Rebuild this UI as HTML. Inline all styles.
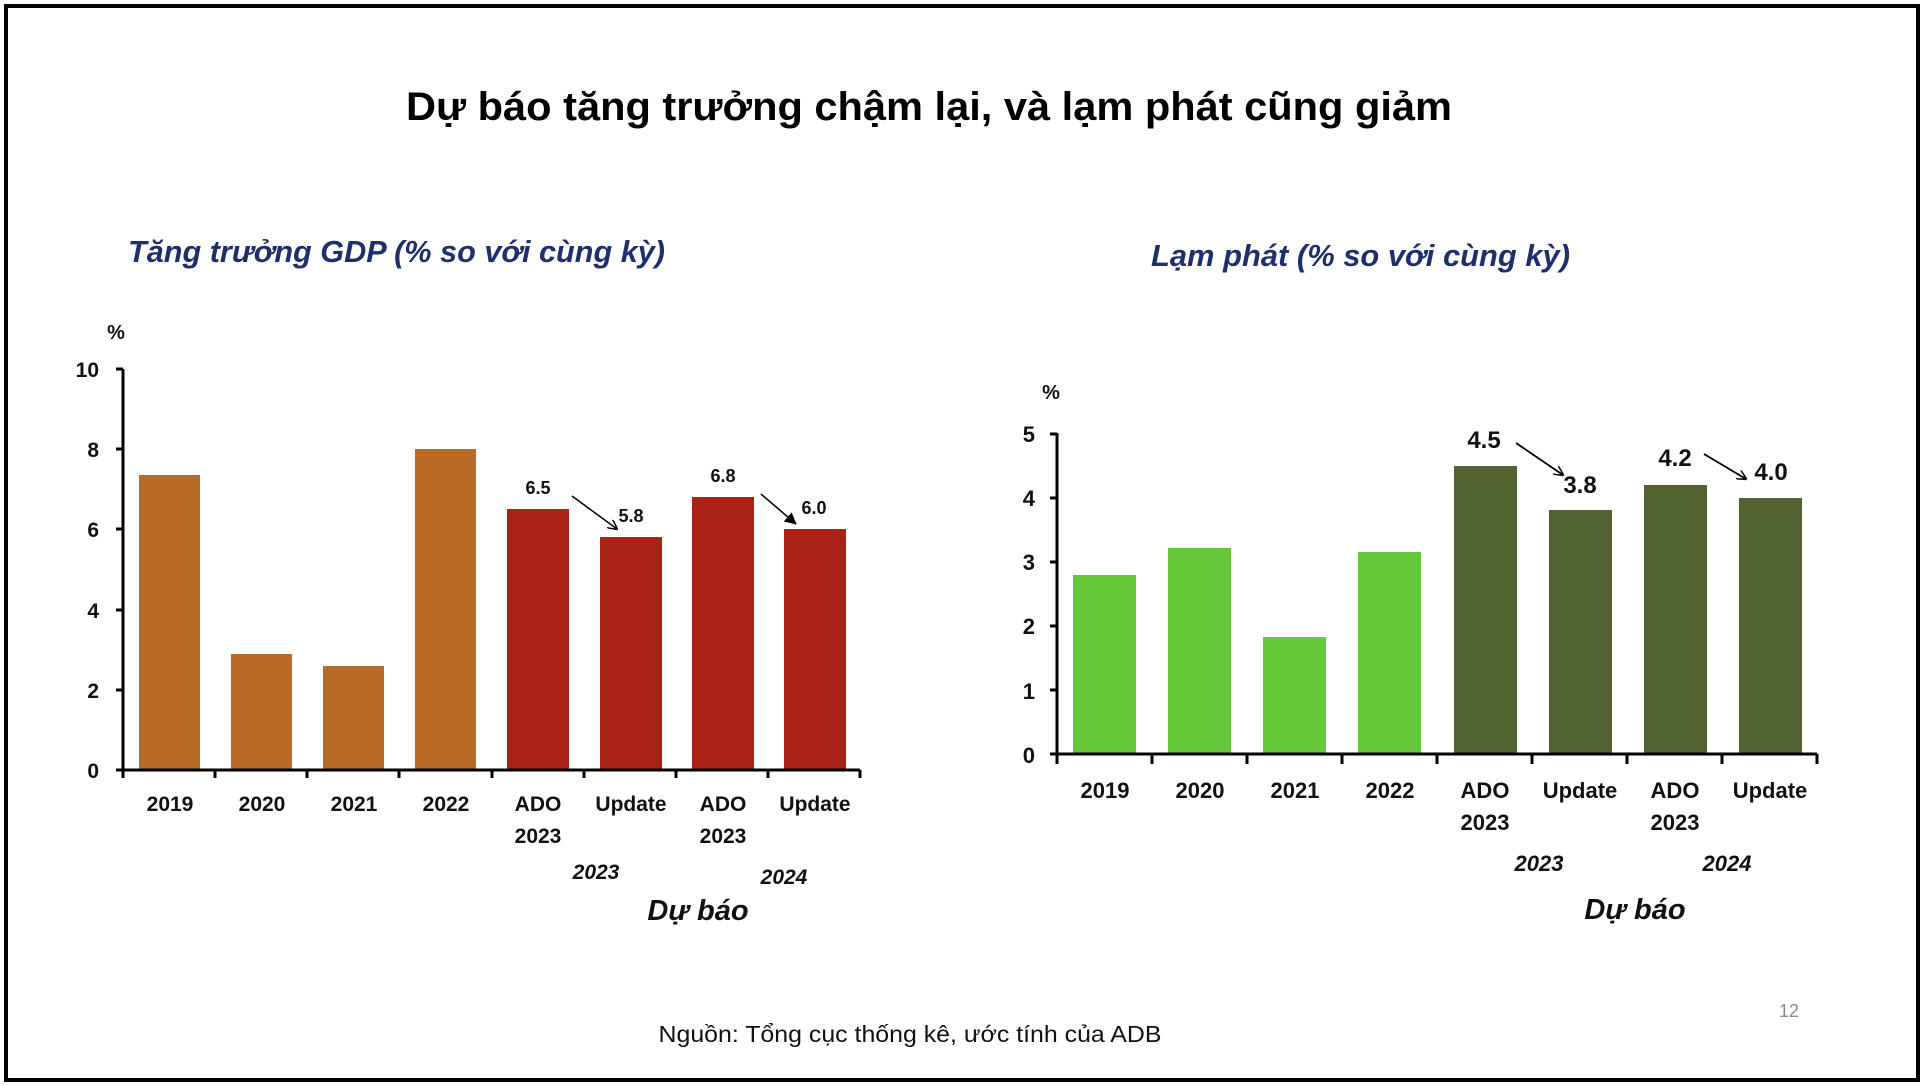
<!DOCTYPE html>
<html><head><meta charset="utf-8"><style>
html,body{margin:0;padding:0;background:#fff;}
svg{display:block;}
text{font-family:"Liberation Sans","DejaVu Sans",sans-serif;}
</style></head><body>
<svg width="1924" height="1086" viewBox="0 0 1924 1086" xmlns="http://www.w3.org/2000/svg">
<defs>
<marker id="ah" markerWidth="10" markerHeight="10" refX="9" refY="5" orient="auto" markerUnits="userSpaceOnUse">
<path d="M0,0 L10,5 L0,10" fill="none" stroke="#000" stroke-width="1.5"/>
</marker>
<marker id="ahf" markerWidth="12" markerHeight="12" refX="11" refY="6" orient="auto" markerUnits="userSpaceOnUse">
<path d="M0,0 L12,6 L0,12 z" fill="#000"/>
</marker>
</defs>
<rect x="6" y="6" width="1912" height="1074" fill="#fff" stroke="#000" stroke-width="4"/>
<text x="929" y="120" text-anchor="middle" font-size="40" font-weight="bold" textLength="1046" lengthAdjust="spacingAndGlyphs">Dự báo tăng trưởng chậm lại, và lạm phát cũng giảm</text>
<text x="128" y="262" font-size="31" font-weight="bold" font-style="italic" fill="#1F2F6B" textLength="537" lengthAdjust="spacingAndGlyphs">Tăng trưởng GDP (% so với cùng kỳ)</text>
<text x="1151" y="266" font-size="31" font-weight="bold" font-style="italic" fill="#1F2F6B" textLength="419" lengthAdjust="spacingAndGlyphs">Lạm phát (% so với cùng kỳ)</text>

<!-- LEFT CHART -->
<g font-weight="bold" font-size="21" fill="#111">
<text x="116" y="339" text-anchor="middle" font-size="20">%</text>
<g text-anchor="end">
<text x="99" y="377">10</text><text x="99" y="457">8</text><text x="99" y="537">6</text>
<text x="99" y="618">4</text><text x="99" y="698">2</text><text x="99" y="778">0</text>
</g>
<g fill="#B96A27">
<rect x="139" y="475" width="61" height="295"/>
<rect x="231" y="654" width="61" height="116"/>
<rect x="323" y="666" width="61" height="104"/>
<rect x="415" y="449" width="61" height="321"/>
</g>
<g fill="#A82218">
<rect x="507" y="509" width="62" height="261"/>
<rect x="600" y="537" width="62" height="233"/>
<rect x="692" y="497" width="62" height="273"/>
<rect x="784" y="529" width="62" height="241"/>
</g>
<g stroke="#000" stroke-width="3" fill="none">
<path d="M123,369 V777 M116,369 H123 M116,449 H123 M116,529 H123 M116,610 H123 M116,690 H123 M116,770 H860"/>
<path d="M123,770 v8 M215,770 v8 M307,770 v8 M399,770 v8 M492,770 v8 M584,770 v8 M676,770 v8 M768,770 v8 M860,770 v8"/>
</g>
<g text-anchor="middle">
<text x="170" y="811">2019</text><text x="262" y="811">2020</text><text x="354" y="811">2021</text><text x="446" y="811">2022</text>
<text x="538" y="811">ADO</text><text x="538" y="843">2023</text>
<text x="631" y="811">Update</text>
<text x="723" y="811">ADO</text><text x="723" y="843">2023</text>
<text x="815" y="811">Update</text>
<text x="596" y="879" font-style="italic">2023</text>
<text x="784" y="884" font-style="italic">2024</text>
<text x="698" y="920" font-style="italic" font-size="29">Dự báo</text>
<text x="538" y="494" font-size="18">6.5</text>
<text x="631" y="522" font-size="18">5.8</text>
<text x="723" y="482" font-size="18">6.8</text>
<text x="814" y="514" font-size="18">6.0</text>
</g>
<line x1="572" y1="496" x2="617" y2="529" stroke="#000" stroke-width="1.5" marker-end="url(#ah)"/>
<line x1="761" y1="494" x2="796" y2="524" stroke="#000" stroke-width="1.5" marker-end="url(#ahf)"/>
</g>

<!-- RIGHT CHART -->
<g font-weight="bold" font-size="22" fill="#111">
<text x="1051" y="399" text-anchor="middle" font-size="20">%</text>
<g text-anchor="end">
<text x="1035" y="442">5</text><text x="1035" y="506">4</text><text x="1035" y="570">3</text>
<text x="1035" y="634">2</text><text x="1035" y="699">1</text><text x="1035" y="763">0</text>
</g>
<g fill="#67C73B">
<rect x="1073" y="575" width="63" height="179"/>
<rect x="1168" y="548" width="63" height="206"/>
<rect x="1263" y="637" width="63" height="117"/>
<rect x="1358" y="552" width="63" height="202"/>
</g>
<g fill="#536231">
<rect x="1454" y="466" width="63" height="288"/>
<rect x="1549" y="510" width="63" height="244"/>
<rect x="1644" y="485" width="63" height="269"/>
<rect x="1739" y="498" width="63" height="256"/>
</g>
<g stroke="#000" stroke-width="3" fill="none">
<path d="M1057,433 V761 M1050,434 H1057 M1050,498 H1057 M1050,562 H1057 M1050,626 H1057 M1050,690 H1057 M1050,754 H1817"/>
<path d="M1057,754 v10 M1152,754 v10 M1247,754 v10 M1342,754 v10 M1437,754 v10 M1532,754 v10 M1627,754 v10 M1722,754 v10 M1817,754 v10"/>
</g>
<g text-anchor="middle">
<text x="1105" y="798">2019</text><text x="1200" y="798">2020</text><text x="1295" y="798">2021</text><text x="1390" y="798">2022</text>
<text x="1485" y="798">ADO</text><text x="1485" y="830">2023</text>
<text x="1580" y="798">Update</text>
<text x="1675" y="798">ADO</text><text x="1675" y="830">2023</text>
<text x="1770" y="798">Update</text>
<text x="1539" y="871" font-style="italic">2023</text>
<text x="1727" y="871" font-style="italic">2024</text>
<text x="1635" y="919" font-style="italic" font-size="29">Dự báo</text>
<text x="1484" y="448" font-size="24">4.5</text>
<text x="1580" y="493" font-size="24">3.8</text>
<text x="1675" y="466" font-size="24">4.2</text>
<text x="1771" y="480" font-size="24">4.0</text>
</g>
<line x1="1516" y1="443" x2="1563" y2="475" stroke="#000" stroke-width="1.8" marker-end="url(#ah)"/>
<line x1="1704" y1="454" x2="1746" y2="479" stroke="#000" stroke-width="1.8" marker-end="url(#ah)"/>
</g>

<text x="910" y="1042" text-anchor="middle" font-size="23" fill="#111" textLength="503" lengthAdjust="spacingAndGlyphs">Nguồn: Tổng cục thống kê, ước tính của ADB</text>
<text x="1789" y="1017" text-anchor="middle" font-size="18" fill="#888">12</text>
</svg>
</body></html>
